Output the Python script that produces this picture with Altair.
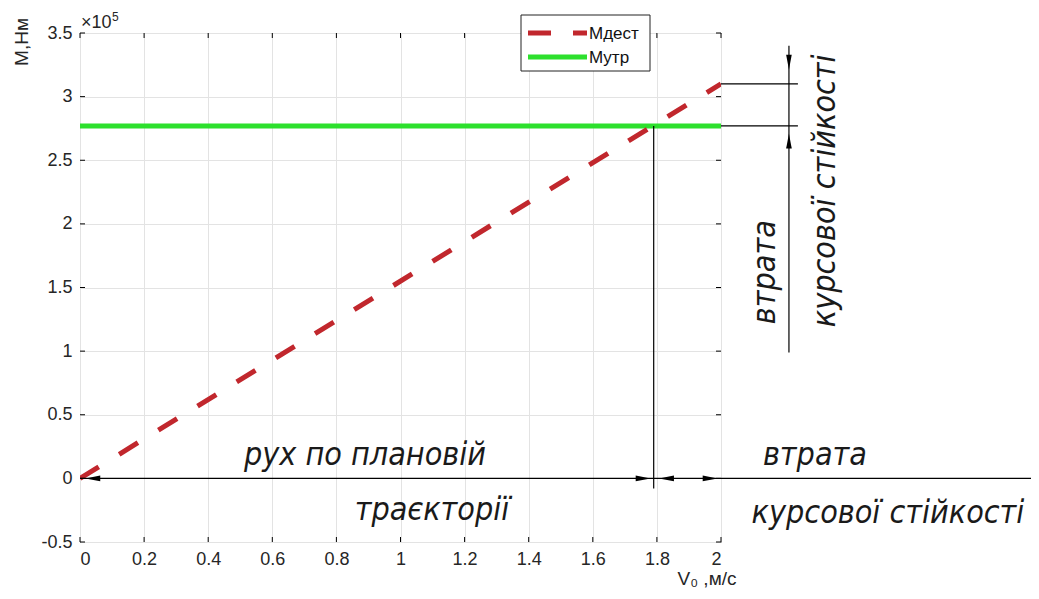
import altair as alt
import pandas as pd

# ---- data ----
v0 = [0.0, 2.0]
m_dest = [0, 310000]
m_utr = [277000, 277000]

x_ticks = [0, 0.2, 0.4, 0.6, 0.8, 1.0, 1.2, 1.4, 1.6, 1.8, 2.0]
y_ticks = [-50000, 0, 50000, 100000, 150000, 200000, 250000, 300000, 350000]

# annotation geometry (data units)
base_x = [0.0, 2.98]
base_y = 0
vert_x = 1.79
vert_y = [277000, -8000]
dim_h_y = [310000, 277000]
dim_h_x = [2.0, 2.24]
dim_v_x = 2.212
dim_v_y = [340000, 99000]

arr_x = [0.04, 1.757, 1.83, 1.966, 2.212, 2.212]
arr_y = [0, 0, 0, 0, 327000, 265000]
arr_ang = [0, 180, 0, 180, 270, 90]

ann_text = ["рух по плановій", "траєкторії", "втрата", "курсової стійкості",
            "втрата", "курсової стійкості"]
ann_x = [0.889, 1.098, 2.293, 2.521, 2.137, 2.325]
ann_y = [18000, -25000, 18000, -27000, 162000, 226000]
ann_ang = [0, 0, 0, 0, 270, 270]

RED = "#c1272d"
GREEN = "#2de02d"
TXT = "#262626"
LBL_FONT = "Liberation Sans"
ANN_FONT = "DejaVu Sans Condensed"

X = alt.Scale(domain=[0, 2], nice=False, zero=False)
Y = alt.Scale(domain=[-50000, 350000], nice=False, zero=False)

x_axis = alt.Axis(values=x_ticks, format="~g", title=None)
y_axis = alt.Axis(values=y_ticks, labelExpr="'' + datum.value / 100000", title=None)

one = pd.DataFrame({"a": [0]})

# main lines
dest_df = pd.DataFrame({"v": v0, "m": m_dest})
utr_df = pd.DataFrame({"v": v0, "m": m_utr})

axes_layer = alt.Chart(utr_df).mark_line(opacity=0).encode(
    x=alt.X("v:Q", scale=X, axis=x_axis),
    y=alt.Y("m:Q", scale=Y, axis=y_axis),
)

utr = alt.Chart(utr_df).mark_line(color=GREEN, strokeWidth=5, clip=True).encode(
    x=alt.X("v:Q", scale=X, axis=x_axis), y=alt.Y("m:Q", scale=Y, axis=y_axis))

dest = alt.Chart(dest_df).mark_line(color=RED, strokeWidth=5, strokeDash=[22, 24],
                                    clip=True).encode(
    x=alt.X("v:Q", scale=X, axis=x_axis), y=alt.Y("m:Q", scale=Y, axis=y_axis))

# inward ticks
xt_df = pd.DataFrame({"v": x_ticks})
yt_df = pd.DataFrame({"m": y_ticks})
tick_b = alt.Chart(xt_df).mark_rule(color="black").encode(
    x=alt.X("v:Q", scale=X, axis=x_axis), y=alt.value(509), y2=alt.value(504))
tick_t = alt.Chart(xt_df).mark_rule(color="black").encode(
    x=alt.X("v:Q", scale=X, axis=x_axis), y=alt.value(0), y2=alt.value(5))
tick_l = alt.Chart(yt_df).mark_rule(color="black").encode(
    y=alt.Y("m:Q", scale=Y, axis=y_axis), x=alt.value(0), x2=alt.value(5))
tick_r = alt.Chart(yt_df).mark_rule(color="black").encode(
    y=alt.Y("m:Q", scale=Y, axis=y_axis), x=alt.value(641), x2=alt.value(636))

# annotation lines
hl_df = pd.DataFrame({"x1": [base_x[0]] + dim_h_x[:1] * 2,
                      "x2": [base_x[1]] + dim_h_x[1:] * 2,
                      "y": [base_y] + dim_h_y})
hlines = alt.Chart(hl_df).mark_rule(color="black", strokeWidth=1.2, clip=False).encode(
    x=alt.X("x1:Q", scale=X, axis=x_axis), x2="x2:Q",
    y=alt.Y("y:Q", scale=Y, axis=y_axis))

vl_df = pd.DataFrame({"x": [vert_x, dim_v_x],
                      "y1": [vert_y[0], dim_v_y[0]],
                      "y2": [vert_y[1], dim_v_y[1]]})
vlines = alt.Chart(vl_df).mark_rule(color="black", strokeWidth=1.2, clip=False).encode(
    x=alt.X("x:Q", scale=X, axis=x_axis), y=alt.Y("y1:Q", scale=Y, axis=y_axis),
    y2="y2:Q")

arr_df = pd.DataFrame({"x": arr_x, "y": arr_y, "ang": arr_ang})
arrows = alt.Chart(arr_df).mark_point(
    shape="M -1 0 L 1 -0.38 L 1 0.38 Z", filled=True, color="black", opacity=1,
    size=220, clip=False).encode(
    x=alt.X("x:Q", scale=X, axis=x_axis), y=alt.Y("y:Q", scale=Y, axis=y_axis),
    angle=alt.Angle("ang:Q", scale=None))

ann_df = pd.DataFrame({"t": ann_text, "x": ann_x, "y": ann_y, "ang": ann_ang})
ann = alt.Chart(ann_df).mark_text(
    font=ANN_FONT, fontStyle="italic", fontSize=32, color="#1a1a1a",
    align="center", baseline="middle", clip=False).encode(
    x=alt.X("x:Q", scale=X, axis=x_axis), y=alt.Y("y:Q", scale=Y, axis=y_axis),
    text="t:N", angle=alt.Angle("ang:Q", scale=None))

# legend (manual)
leg_box = alt.Chart(one).mark_rect(fill="white", stroke="#222", strokeWidth=1).encode(
    x=alt.value(441), x2=alt.value(570), y=alt.value(-18), y2=alt.value(38))
leg_red = alt.Chart(one).mark_rule(color=RED, strokeWidth=5, strokeDash=[23, 22]).encode(
    x=alt.value(448), x2=alt.value(507), y=alt.value(0))
leg_green = alt.Chart(one).mark_rule(color=GREEN, strokeWidth=5).encode(
    x=alt.value(448), x2=alt.value(507), y=alt.value(24))
leg_t1 = alt.Chart(one).mark_text(text="Мдест", font=LBL_FONT, fontSize=17,
                                  color="#111", align="left", baseline="middle").encode(
    x=alt.value(509), y=alt.value(1))
leg_t2 = alt.Chart(one).mark_text(text="Мутр", font=LBL_FONT, fontSize=17,
                                  color="#111", align="left", baseline="middle").encode(
    x=alt.value(509), y=alt.value(25))

# titles
ytitle = alt.Chart(one).mark_text(text="М,Нм", font=LBL_FONT, fontSize=19,
                                  color=TXT, angle=270, align="center",
                                  baseline="middle").encode(
    x=alt.value(-58), y=alt.value(9))
exp1 = alt.Chart(one).mark_text(text="×10", font=LBL_FONT, fontSize=18,
                                color=TXT, align="left", baseline="alphabetic").encode(
    x=alt.value(1), y=alt.value(-5))
exp2 = alt.Chart(one).mark_text(text="5", font=LBL_FONT, fontSize=12,
                                color=TXT, align="left", baseline="alphabetic").encode(
    x=alt.value(32), y=alt.value(-12))
xtitle = alt.Chart(one).mark_text(text="V₀ ,м/с", font=LBL_FONT, fontSize=19,
                                  color=TXT, align="center", baseline="middle").encode(
    x=alt.value(627), y=alt.value(546))

chart = alt.layer(
    axes_layer, utr, dest, tick_b, tick_t, tick_l, tick_r,
    hlines, vlines, arrows, ann,
    leg_box, leg_red, leg_green, leg_t1, leg_t2,
    ytitle, exp1, exp2, xtitle,
).properties(
    width=641, height=509,
    autosize=alt.AutoSizeParams(type="none"),
    padding={"left": 72, "top": 25, "right": 310, "bottom": 50},
    background="white",
).configure_view(
    stroke="black", strokeWidth=1
).configure_axis(
    grid=True, gridColor="#e3e3e3", domain=False, ticks=False,
    labelFont=LBL_FONT, labelFontSize=18, labelColor=TXT, labelPadding=8,
)

chart.save("out.html", embed_options={"renderer": "svg", "actions": False})
